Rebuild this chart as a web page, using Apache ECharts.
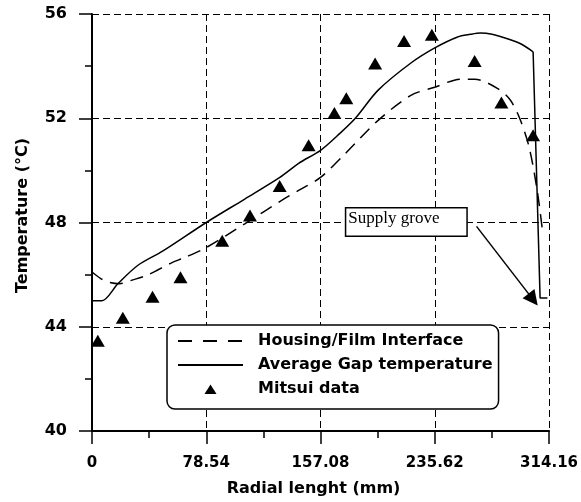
<!DOCTYPE html>
<html>
<head>
<meta charset="utf-8">
<script src="https://cdn.jsdelivr.net/npm/echarts@6/dist/echarts.min.js"></script>
<style>
html,body{margin:0;padding:0;background:#fff;}
#chart{width:581px;height:502px;}
</style>
</head>
<body>
<div id="chart"></div>
<script>
// ---- Data ----
var xTickLabels = ['0', '78.54', '157.08', '235.62', '314.16'];
var yTickLabels = ['40', '44', '48', '52', '56'];

var housingX = [0, 6, 12, 19, 27, 38, 55, 63.5, 78.54, 105, 130.4, 142, 157.08, 174.2, 196.7, 219.2, 235.6, 253.4, 263, 278.6, 287.5, 294.3, 300.5, 306, 309.4];
var housingY = [46.1, 45.85, 45.7, 45.65, 45.78, 45.98, 46.46, 46.65, 47.04, 47.95, 48.85, 49.23, 49.73, 50.65, 51.92, 52.88, 53.19, 53.5, 53.5, 53.15, 52.7, 51.95, 50.88, 49.23, 47.8];

var gapX = [0, 6.8, 17.8, 31.4, 48.5, 78.54, 105, 129.1, 142, 157.08, 170, 181, 196.7, 219.2, 235.6, 251.3, 260, 267, 275, 285.5, 295, 303.2, 308, 313];
var gapY = [45.0, 45.0, 45.65, 46.35, 46.9, 48.0, 48.9, 49.73, 50.27, 50.77, 51.4, 52.0, 53.08, 54.12, 54.7, 55.12, 55.22, 55.27, 55.22, 55.05, 54.85, 54.55, 45.1, 45.1];
var gapDropIndex = 21; // index where the curve falls into the supply groove

var mitsuiX = [4, 21.2, 41.6, 60.8, 89.5, 108.6, 129, 148.9, 166.6, 174.8, 194.6, 214.5, 233.6, 263, 281.4, 303.2];
var mitsuiY = [43.46, 44.35, 45.15, 45.9, 47.3, 48.27, 49.4, 50.96, 52.2, 52.77, 54.1, 54.96, 55.2, 54.2, 52.6, 51.35];

var annotationText = 'Supply grove';
var annotationBoxLeft = [174.8, 48.02];
var arrowFrom = [264.3, 47.85];
var arrowTo = [303.2, 45.04];

function zip(xs, ys) { return xs.map(function (x, i) { return [x, ys[i]]; }); }
var gapData = zip(gapX, gapY);

var chart = echarts.init(document.getElementById('chart'), null, {renderer: 'canvas'});
var boldFont = 'DejaVu Sans';
// small centred triangle inside the 65x10 legend icon box
var legendTriangle = 'path://M0,0 M65,10 M26.5,10 L32.5,0.5 L38.5,10 Z';
var option = {
  animation: false,
  backgroundColor: '#fff',
  grid: {left: 92, right: 29, top: 14, bottom: 71, containLabel: false},
  xAxis: {
    type: 'value', min: 0, max: 314.16, interval: 78.54,
    name: 'Radial lenght (mm)', nameLocation: 'middle', nameGap: 50,
    nameTextStyle: {fontFamily: boldFont, fontWeight: 'bold', fontSize: 16, color: '#000', padding: [0, 14, 0, 0]},
    axisLine: {show: true, onZero: false, lineStyle: {color: '#000', width: 2}},
    axisTick: {show: true, length: 13, lineStyle: {color: '#000', width: 1.5}},
    minorTick: {show: true, splitNumber: 2, length: 7, lineStyle: {color: '#000', width: 1.5}},
    axisLabel: {
      margin: 25, fontFamily: boldFont, fontWeight: 'bold', fontSize: 15, color: '#000',
      showMinLabel: true, showMaxLabel: true,
      formatter: function (v) { var i = Math.round(v / 78.54); return xTickLabels[i] !== undefined ? xTickLabels[i] : ''; }
    },
    splitLine: {show: true, lineStyle: {color: '#000', width: 1, type: [7, 4]}}
  },
  yAxis: {
    type: 'value', min: 40, max: 56, interval: 4, offset: 3,
    name: 'Temperature (°C)', nameLocation: 'middle', nameGap: 58,
    nameTextStyle: {fontFamily: boldFont, fontWeight: 'bold', fontSize: 16, color: '#000', padding: [0, 0, 0, 14]},
    axisLine: {show: true, lineStyle: {color: '#000', width: 2}},
    axisTick: {show: true, length: 13, lineStyle: {color: '#000', width: 1.5}},
    minorTick: {show: true, splitNumber: 2, length: 7, lineStyle: {color: '#000', width: 1.5}},
    axisLabel: {
      margin: 22, fontFamily: boldFont, fontWeight: 'bold', fontSize: 16, color: '#000',
      formatter: function (v) { var i = Math.round((v - 40) / 4); return yTickLabels[i] !== undefined ? yTickLabels[i] : ''; }
    },
    splitLine: {show: true, lineStyle: {color: '#000', width: 1, type: [7, 4]}}
  },
  legend: {
    left: 167, top: 325, orient: 'vertical',
    itemWidth: 65, itemHeight: 10, itemGap: 8,
    padding: [8, 6, 12, 10],
    borderColor: '#000', borderWidth: 1.5, borderRadius: 8, backgroundColor: '#fff',
    selectedMode: false,
    textStyle: {fontFamily: boldFont, fontWeight: 'bold', fontSize: 16, color: '#000', lineHeight: 16, padding: [0, 0, 0, 10]},
    data: [
      {name: 'Housing/Film Interface', lineStyle: {type: [14, 11]}, itemStyle: {opacity: 0}},
      {name: 'Average Gap temperature', itemStyle: {opacity: 0}},
      {name: 'Mitsui data', icon: legendTriangle}
    ]
  },
  series: [
    {
      name: 'Housing/Film Interface', type: 'line', data: zip(housingX, housingY),
      symbol: 'none', smooth: 0.3, z: 3,
      lineStyle: {color: '#000', width: 1.5, type: [13, 8]}, itemStyle: {color: '#000'}
    },
    {
      name: 'Average Gap temperature', type: 'line', data: gapData.slice(0, gapDropIndex + 1),
      symbol: 'none', smooth: 0.3, z: 3,
      lineStyle: {color: '#000', width: 1.5, type: 'solid'}, itemStyle: {color: '#000'}
    },
    {
      name: 'Average Gap temperature', type: 'line', data: gapData.slice(gapDropIndex),
      symbol: 'none', smooth: false, z: 3,
      lineStyle: {color: '#000', width: 1.5, type: 'solid'}, itemStyle: {color: '#000'}
    },
    {
      name: 'Mitsui data', type: 'scatter', data: zip(mitsuiX, mitsuiY),
      symbol: 'triangle', symbolSize: [14, 12], z: 4,
      itemStyle: {color: '#000', opacity: 1},
      markLine: {
        silent: true, animation: false,
        symbol: ['none', 'triangle'], symbolSize: 15,
        label: {show: false},
        lineStyle: {color: '#000', width: 1.5, type: 'solid'},
        itemStyle: {color: '#000'},
        emphasis: {disabled: true},
        data: [[{coord: arrowFrom}, {coord: arrowTo}]]
      },
      markPoint: {
        silent: true, animation: false,
        symbol: 'rect', symbolSize: 1,
        itemStyle: {color: 'rgba(0,0,0,0)'},
        label: {
          show: true, position: 'inside',
          formatter: '{t|' + annotationText + '}',
          width: 116, height: 23, padding: [2, 2, 2, 2],
          align: 'left', verticalAlign: 'middle',
          backgroundColor: '#fff', borderColor: '#000', borderWidth: 1.5,
          rich: {t: {fontFamily: 'Liberation Serif', fontSize: 17, color: '#000'}}
        },
        data: [{coord: annotationBoxLeft}]
      }
    }
  ]
};
chart.setOption(option);
</script>
</body>
</html>
